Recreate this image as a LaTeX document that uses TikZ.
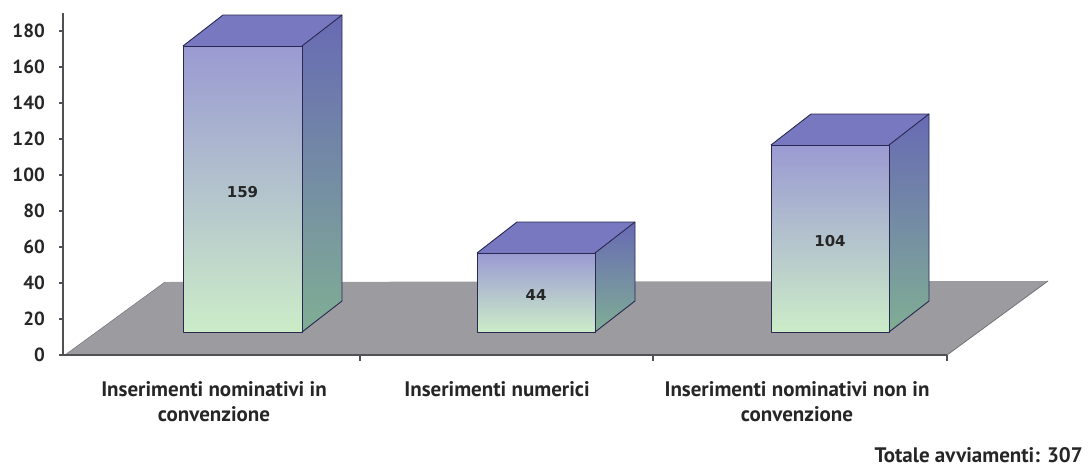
\documentclass[tikz,border=0pt]{standalone}
\usepackage{fontspec}
\setmainfont{PT Sans}
\newfontfamily\valfont{DejaVu Sans}
\definecolor{frontTop}{RGB}{154,154,210}
\definecolor{frontMid}{RGB}{160,202,246}
\definecolor{frontBot}{RGB}{204,236,200}
\definecolor{topFace}{RGB}{120,120,192}
\definecolor{sideTop}{RGB}{104,106,180}
\definecolor{sideBot}{RGB}{128,174,148}
\definecolor{floorGray}{RGB}{155,155,160}
\definecolor{edgeCol}{RGB}{40,40,80}
\definecolor{axisCol}{RGB}{80,80,85}
\tikzset{
  ticklabel/.style={anchor=east, font=\fontsize{19}{19}\selectfont\bfseries, inner sep=0pt, text=black!85},
  catlabel/.style={align=center, font=\fontsize{21}{25}\selectfont\bfseries, inner sep=0pt, text=black!85},
  vallabel/.style={font=\valfont\fontsize{15}{15}\selectfont\bfseries, inner sep=0pt, text=black!85},
  baredge/.style={draw=edgeCol, line width=0.9pt, line join=round},
  axisline/.style={draw=axisCol, line width=1.8pt},
}
\newcommand\chartbar[5]{% x0, x1, ytop, value, name
  \shade[top color=frontTop, middle color=frontMid, bottom color=frontBot]
    (#1,332) rectangle (#2,#3);
  \shade[top color=sideTop, bottom color=sideBot]
    (#2,332) -- (#2,#3) -- ($(#2,#3)+(40,-31)$) -- ($(#2,332)+(40,-31)$) -- cycle;
  \fill[topFace] (#1,#3) -- ($(#1,#3)+(40,-31)$) -- ($(#2,#3)+(40,-31)$) -- (#2,#3) -- cycle;
  \draw[baredge] (#1,332) rectangle (#2,#3);
  \draw[baredge] (#1,#3) -- ($(#1,#3)+(40,-31)$) -- ($(#2,#3)+(40,-31)$) -- ($(#2,332)+(40,-31)$) -- (#2,332);
  \draw[baredge] (#2,#3) -- ($(#2,#3)+(40,-31)$);
  \node[vallabel] (#5) at ({(#1+#2)/2},{(#3+332)/2+3}) {#4};
}
\usetikzlibrary{calc}
\begin{document}
\begin{tikzpicture}[x=1pt,y=-1pt]
\useasboundingbox (0,0) rectangle (1089,466);
% floor
\fill[floorGray] (65,355) -- (165,282) -- (1048,281) -- (947,355) -- cycle;
\draw[axisCol!80, line width=0.8pt] (947,355) -- (1048,281);
\draw[floorGray!80!black, line width=0.6pt] (65,355) -- (165,282);
% axes
\draw[axisline] (63,13) -- (63,356);
\draw[axisline] (62,355) -- (947,355);
\foreach \v/\y in {0/355,20/319,40/283,60/247,80/211,100/175,120/139,140/103,160/67,180/31} {
  \draw[axisCol, line width=1.6pt] (59,\y) -- (63,\y);
  \node[ticklabel] (t\v) at (45,\y) {\v};
}
\foreach \x in {360,653,947} {
  \draw[axisCol, line width=1.4pt] (\x,355) -- (\x,361);
}
% bars
\chartbar{183}{302}{46}{159}{v1}
\chartbar{477}{595}{253}{44}{v2}
\chartbar{771}{889}{145}{104}{v3}
% category labels
\node[catlabel, anchor=north] (c1) at (214,381) {Inserimenti nominativi in\\convenzione};
\node[catlabel, anchor=north] (c2) at (497,381) {Inserimenti numerici};
\node[catlabel, anchor=north] (c3) at (797,381) {Inserimenti nominativi non in\\convenzione};
\node[catlabel, anchor=base east] (tot) at (1083,462) {Totale avviamenti: 307};
\end{tikzpicture}
\end{document}
